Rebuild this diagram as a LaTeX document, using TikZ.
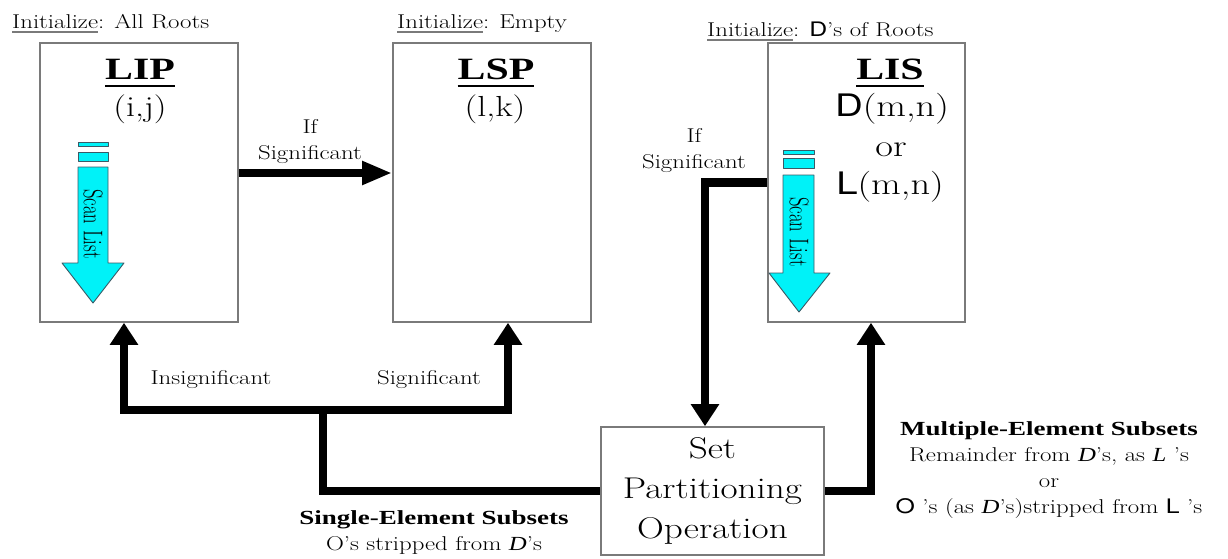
\documentclass[tikz,border=0pt]{standalone}
\usepackage{fontspec}
\usepackage{graphicx}
\newfontfamily\tnr{Liberation Serif}
\newfontfamily\sansf{TeX Gyre Heros}
\usetikzlibrary{arrows.meta}
\definecolor{boxgray}{HTML}{7A7A7A}
\definecolor{scancyan}{HTML}{00F2F8}
\definecolor{scanedge}{HTML}{3A5A66}
% the lettering is stretched sideways
\newcommand\wide[1]{\scalebox{1.24}[1]{#1}}
\newcommand\widet[1]{\scalebox{1.35}[1]{#1}}
\newcommand\bt[1]{{\tnr\bfseries #1}}
\newcommand\itx[1]{{\tnr\itshape #1}}
% underlines drawn as rules below the word
\newcommand\initul[1]{\setbox0\hbox{#1}\rlap{\textcolor{boxgray}{\rule[-3.9pt]{\wd0}{1.4pt}}}\box0}
\newcommand\headul[1]{\setbox0\hbox{#1}\rlap{\rule[-7.5pt]{\wd0}{2.6pt}}\box0}
\newcommand\basefs{\fontsize{20}{26}\selectfont}
\tikzset{
  listbox/.style={draw=boxgray, line width=1.6pt, inner sep=0pt, fill=white},
  link/.style={line width=8.5pt, line join=miter},
  arrowlink/.style={link, -{Triangle[width=27pt,length=22pt]}},
  lbl/.style={inner sep=0pt, font=\basefs, align=center},
  initlbl/.style={inner sep=0pt, font=\basefs, anchor=base west},
  headlbl/.style={inner sep=0pt, font=\fontsize{31}{36}\selectfont, anchor=base},
  idxlbl/.style={inner sep=0pt, font=\fontsize{29}{36}\selectfont, anchor=base},
  lislbl/.style={inner sep=0pt, font=\fontsize{31}{36}\selectfont, anchor=base},
  scanshape/.style={fill=scancyan, draw=scanedge, line width=0.9pt, line join=round},
  scantext/.style={inner sep=0pt, rotate=-90}
}
\begin{document}
\begin{tikzpicture}[x=1pt, y=-1pt]
\useasboundingbox (0,0) rectangle (1228,559);

% the three lists and the partitioning step
\node[listbox, minimum width=198pt, minimum height=279pt] (lip) at (139,182.5) {};
\node[listbox, minimum width=198pt, minimum height=279pt] (lsp) at (492,182.5) {};
\node[listbox, minimum width=197pt, minimum height=279pt] (lis) at (866.5,182.5) {};
\node[listbox, minimum width=223pt, minimum height=128pt, font=\fontsize{30}{40}\selectfont, align=center] (set) at (712.5,491) {\wide{Set}\\\wide{Partitioning}\\\wide{Operation}};

% initial contents
\node[initlbl] (ini1) at (12,29) {\wide{\initul{Initialize}: All Roots}};
\node[initlbl] (ini2) at (397,29) {\wide{\initul{Initialize}: Empty}};
\node[initlbl] (ini3) at (707,37) {\wide{\initul{Initialize}: {\sansf D}’s of Roots}};

% list titles and contents
\node[headlbl] (liph) at (140,80) {\widet{\headul{\bt{LIP}}}};
\node[idxlbl] (lipi) at (140,117) {\wide{(i,j)}};
\node[headlbl] (lsph) at (496,80) {\widet{\headul{\bt{LSP}}}};
\node[idxlbl] (lspi) at (495,117) {\wide{(l,k)}};
\node[headlbl] (lish) at (890,80) {\widet{\headul{\bt{LIS}}}};
\node[lislbl] (lisd) at (892,117) {\wide{{\sansf D}(m,n)}};
\node[lislbl] (lisor) at (891,157) {\wide{or}};
\node[lislbl] (lisl) at (890,194) {\wide{{\sansf L}(m,n)}};

% scan arrows
\filldraw[scanshape] (78,142) rectangle (108,146.5);
\filldraw[scanshape] (78,152) rectangle (108,161);
\filldraw[scanshape] (78,167) -- (108,167) -- (108,263) -- (124,263) -- (93,303) -- (62,263) -- (78,263) -- cycle;
\node[scantext] (scan1) at (93,224) {\scalebox{0.93}[1.35]{\basefs Scan List}};
\filldraw[scanshape] (783,150) rectangle (814,154.5);
\filldraw[scanshape] (783,158) rectangle (814,168);
\filldraw[scanshape] (783,175) -- (814,175) -- (814,273) -- (830,273) -- (799,312) -- (769,273) -- (783,273) -- cycle;
\node[scantext] (scan2) at (799,232) {\scalebox{0.93}[1.35]{\basefs Scan List}};

% helper positions for the connectors
\coordinate (ysig) at (0,173);
\coordinate (xlip) at (124,0);
\coordinate (xlsp) at (508,0);
\coordinate (xlis) at (871,0);
\coordinate (xset) at (705,0);
\coordinate (j1) at (323,410);

% connectors
\draw[link, -{Triangle[width=22pt,length=30pt]}] (lip.east |- ysig) -- (lsp.west |- ysig);
\draw[arrowlink] (lis.west) -| (set.north -| xset);
\draw[link] (set.west) -| (j1);
\draw[arrowlink] (j1) -| (lip.south -| xlip);
\draw[arrowlink] (j1) -| (lsp.south -| xlsp);
\draw[arrowlink] (set.east) -| (lis.south -| xlis);

% connector labels
\node[lbl] (sig1) at (310,142) {\wide{If}\\\wide{Significant}};
\node[lbl] (sig2) at (694,151) {\wide{If}\\\wide{Significant}};
\node[lbl] (insig) at (211,380) {\wide{Insignificant}};
\node[lbl] (sig3) at (429,380) {\wide{Significant}};
\node[lbl] (single) at (434,533) {\widet{\bt{Single-Element Subsets}}\\\wide{O’s stripped from \itx{D}’s}};
\node[lbl] (multi) at (1049,470) {\widet{\bt{Multiple-Element Subsets}}\\\wide{Remainder from \itx{D}’s, as \itx{L} ’s}\\\wide{or}\\\wide{{\sansf O} ’s (as \itx{D}’s)stripped from {\sansf L} ’s}};
\end{tikzpicture}
\end{document}
